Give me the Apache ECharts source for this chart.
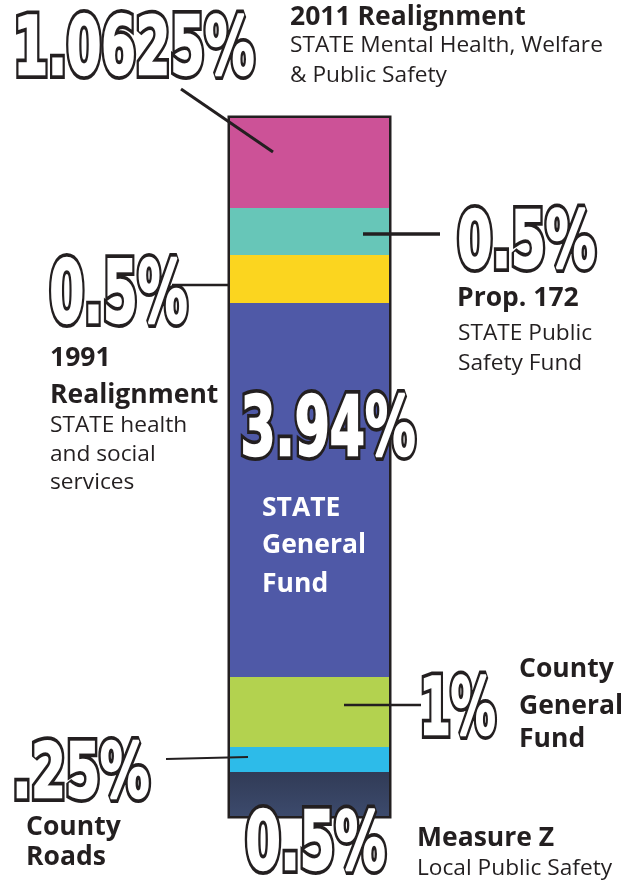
<!DOCTYPE html>
<html>
<head>
<meta charset="UTF-8">
<title>Sales tax breakdown</title>
<script src="https://cdn.jsdelivr.net/npm/echarts@6/dist/echarts.min.js"></script>
<style>
    html, body { margin: 0; padding: 0; background: #fff; }
    #main { width: 623px; height: 883px; }
</style>
</head>
<body>
<div id="main"></div>
<script>
// segments of the bar, listed bottom to top
var segNames   = ['Measure Z', 'County Roads', 'County General Fund', 'STATE General Fund',
                  '1991 Realignment', 'Prop. 172', '2011 Realignment'];
var rateLabels = ['0.5%', '.25%', '1%', '3.94%', '0.5%', '0.5%', '1.0625%'];
// drawn height of each segment (not to scale with the rates)
var segHeights = [44, 25, 70, 374, 48, 47, 90];
var segColors  = ['#323d58', '#2dbbe9', '#b3d24f', '#4f59a7', '#fbd51f', '#67c6b8', '#cc5297'];

var INK = '#231f20';
var total = segHeights.reduce(function (a, b) { return a + b; }, 0);

// big outlined numbers: [segment index, left, top, width, height]
var bigBoxes = [
    [6, 11, 13, 246, 67],
    [5, 455, 208, 143, 65],
    [4, 47, 258, 143, 70],
    [3, 238, 393, 180, 68],
    [2, 417, 675, 81, 65],
    [1, 10, 740, 142, 63],
    [0, 243, 808, 145, 66]
];

// leader lines from numbers to the bar
var leaders = [
    [181, 89, 273, 152, 3],
    [363, 234, 440, 234, 3.5],
    [172, 285, 230, 285, 2.5],
    [344, 705, 421, 705, 2.5],
    [166, 759, 248, 757, 2]
];

// captions: [text, x, y(centre), bold, colour]
var captions = [
    ['2011 Realignment', 290, 17, true],
    ['STATE Mental Health, Welfare', 290, 46, false],
    ['& Public Safety', 290, 76, false],
    ['Prop. 172', 457, 298, true],
    ['STATE Public', 458, 334, false],
    ['Safety Fund', 458, 364, false],
    ['1991', 50, 358, true],
    ['Realignment', 50, 395, true],
    ['STATE health', 50, 426, false],
    ['and social', 50, 455, false],
    ['services', 50, 483, false],
    ['STATE', 262, 508, true, '#ffffff'],
    ['General', 262, 545, true, '#ffffff'],
    ['Fund', 262, 584, true, '#ffffff'],
    ['County', 519, 669, true],
    ['General', 519, 706, true],
    ['Fund', 519, 739, true],
    ['County', 26, 827, true],
    ['Roads', 26, 857, true],
    ['Measure Z', 417, 838, true],
    ['Local Public Safety', 417, 869, false]
];

var measureCtx = document.createElement('canvas').getContext('2d');
function bigFont(fs) { return 'bold ' + fs + 'px "DejaVu Sans"'; }

var graphics = [];

leaders.forEach(function (l) {
    graphics.push({
        type: 'line', z: 5,
        shape: { x1: l[0], y1: l[1], x2: l[2], y2: l[3] },
        style: { stroke: INK, lineWidth: l[4] }
    });
});

captions.forEach(function (c) {
    graphics.push({
        type: 'text', z: 8, x: c[1], y: c[2],
        style: {
            text: c[0],
            fill: c[4] || INK,
            font: (c[3] ? 'bold 26.5px' : '22.7px') + ' "Open Sans"',
            align: 'left', verticalAlign: 'middle'
        }
    });
});

bigBoxes.forEach(function (b) {
    var txt = rateLabels[b[0]];
    var fs = Math.round((b[4] - 8) / 0.729);
    measureCtx.font = bigFont(fs);
    var w = measureCtx.measureText(txt).width;
    var sx = (b[3] - 5) / w;
    var cx = b[1] + 2.5, cy = b[2] + b[4] / 2 + fs * 0.085;
    // dark outline layer with glow
    graphics.push({
        type: 'text', z: 10, x: cx, y: cy, scaleX: sx,
        style: {
            text: txt, font: bigFont(fs),
            fill: INK, stroke: INK, lineWidth: 10,
            align: 'left', verticalAlign: 'middle',
            shadowBlur: 16, shadowColor: 'rgba(0,0,0,0.7)'
        }
    });
    // white face, slightly emboldened
    graphics.push({
        type: 'text', z: 11, x: cx, y: cy, scaleX: sx,
        style: {
            text: txt, font: bigFont(fs),
            fill: '#ffffff', stroke: '#ffffff', lineWidth: 2.5,
            align: 'left', verticalAlign: 'middle'
        }
    });
});

var series = segHeights.map(function (h, i) {
    var color = segColors[i];
    if (i === 0) {
        // bottom segment fades slightly lighter toward the base
        color = new echarts.graphic.LinearGradient(0, 0, 0, 1, [
            { offset: 0, color: '#313b56' },
            { offset: 1, color: '#3c4a6c' }
        ]);
    }
    return {
        name: segNames[i],
        type: 'bar',
        stack: 'tax',
        barWidth: '100%',
        data: [h],
        itemStyle: { color: color },
        silent: true
    };
});

var chart = echarts.init(document.getElementById('main'));
chart.setOption({
    animation: false,
    grid: {
        show: true,
        left: 230, top: 118, width: 159, height: 698,
        borderColor: INK, borderWidth: 5,
        backgroundColor: 'transparent'
    },
    xAxis: { type: 'category', data: ['rate'], show: false },
    yAxis: { type: 'value', min: 0, max: total, show: false },
    series: series,
    graphic: graphics
});
</script>
</body>
</html>
